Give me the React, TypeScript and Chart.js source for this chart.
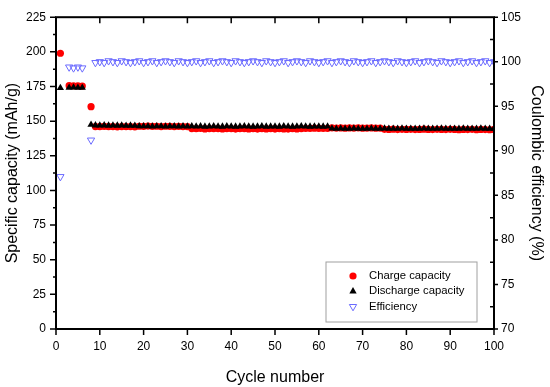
import React, { useEffect, useRef } from 'react';
import { Chart, registerables } from 'chart.js';

Chart.register(...registerables);

const cycles = [
  1, 2, 3, 4, 5, 6, 7, 8, 9, 10, 11, 12, 13, 14, 15, 16, 17, 18, 19, 20,
  21, 22, 23, 24, 25, 26, 27, 28, 29, 30, 31, 32, 33, 34, 35, 36, 37, 38, 39, 40,
  41, 42, 43, 44, 45, 46, 47, 48, 49, 50, 51, 52, 53, 54, 55, 56, 57, 58, 59, 60,
  61, 62, 63, 64, 65, 66, 67, 68, 69, 70, 71, 72, 73, 74, 75, 76, 77, 78, 79, 80,
  81, 82, 83, 84, 85, 86, 87, 88, 89, 90, 91, 92, 93, 94, 95, 96, 97, 98, 99, 100,
];

const chargeCapacity = [
  199.0, null, 175.6, 175.4, 175.5, 175.3, null, 160.4,
  146.1, 146.0, 146.2, 146.0, 146.1, 145.9, 146.1, 146.0, 146.1, 145.9,
  146.3, 146.2, 146.4, 146.2, 146.3, 146.1, 146.3, 146.2, 146.1, 146.2, 146.0, 146.1,
  144.6, 144.5, 144.7, 144.4, 144.6, 144.5, 144.6, 144.4, 144.5, 144.6, 144.3, 144.5,
  144.6, 144.4, 144.5, 144.3, 144.5, 144.4, 144.6, 144.3, 144.5, 144.4, 144.3, 144.5,
  144.4, 144.6, 144.7, 144.8, 144.9, 144.8, 144.7, 144.8,
  145.2, 145.0, 145.1, 144.9, 145.1, 145.0, 145.2, 144.9, 145.0, 145.1, 144.9, 145.0,
  144.1, 144.0, 144.2, 143.9, 144.1, 144.0, 144.1, 143.9, 144.0, 144.2, 144.0, 143.9,
  144.1, 144.0, 143.9, 144.1, 144.0, 143.8, 144.0, 143.9, 144.1, 143.8, 144.0, 143.9,
  143.8, 144.0,
];

const dischargeCapacity = [
  173.9, null, 174.2, 174.3, 174.1, 174.2, null, 147.4,
  147.0, 146.9, 147.0, 146.8, 146.9, 146.8, 146.9, 146.7, 146.8, 146.7,
  146.4, 146.3, 146.4, 146.2, 146.3, 146.3, 146.2, 146.4, 146.3, 146.2, 146.3, 146.2,
  146.3, 146.2, 146.3, 146.1, 146.2, 146.3, 146.2, 146.1, 146.3, 146.2, 146.1, 146.2,
  146.3, 146.2, 146.1, 146.2, 146.3, 146.1, 146.2, 146.2, 146.1, 146.3, 146.2, 146.1,
  146.2, 146.3, 146.2, 146.1, 146.2, 146.2, 146.1, 146.2,
  144.7, 144.6, 144.7, 144.5, 144.6, 144.7, 144.6, 144.5, 144.6, 144.7, 144.5, 144.6,
  144.7, 144.6, 144.5, 144.6, 144.7, 144.5, 144.6, 144.6, 144.5, 144.7, 144.6, 144.5,
  144.6, 144.7, 144.5, 144.6, 144.6, 144.5, 144.7, 144.6, 144.5, 144.6, 144.7, 144.5,
  144.6, 144.6,
];

const coulombicEfficiency = [
  87.1, null, 99.4, 99.3, 99.4, 99.3, null, 91.2,
  99.9, 100.0, 99.9, 100.1, 100.0, 99.9, 100.1, 100.0, 99.9, 100.0,
  100.1, 99.9, 100.0, 100.1, 99.9, 100.0, 100.1, 100.0, 99.9, 100.1, 100.0, 99.9,
  100.0, 100.1, 99.9, 100.0, 100.1, 99.9, 100.0, 100.1, 100.0, 99.9, 100.1, 100.0,
  99.9, 100.0, 100.1, 100.0, 99.9, 100.1, 100.0, 99.9, 100.0, 100.1, 99.9, 100.0,
  100.1, 100.0, 99.9, 100.1, 100.0, 99.9, 100.0, 100.1, 99.9, 100.0, 100.1, 100.0,
  99.9, 100.1, 100.0, 99.9, 100.0, 100.1, 99.9, 100.0, 100.1, 100.0, 99.9, 100.1,
  100.0, 99.9, 100.0, 100.1, 99.9, 100.0, 100.1, 100.0, 99.9, 100.1, 100.0, 99.9,
  100.0, 100.1, 99.9, 100.0, 100.1, 99.9, 100.0, 100.1, 99.9, 100.0,
];

const seriesNames = ['Charge capacity', 'Discharge capacity', 'Efficiency'];
const capacityTicks = [0, 25, 50, 75, 100, 125, 150, 175, 200, 225];
const efficiencyTicks = [70, 75, 80, 85, 90, 95, 100, 105];
const cycleTicks = [0, 10, 20, 30, 40, 50, 60, 70, 80, 90, 100];

const FONT = '"Liberation Sans", Arial, sans-serif';
const RED = '#ff0000';
const BLACK = '#000000';
const BLUE = '#6b6bff';

function toPoints(values: (number | null)[]) {
  return cycles.map((c, i) => ({ x: c, y: values[i] }));
}

function drawMarker(ctx: CanvasRenderingContext2D, kind: string, x: number, y: number) {
  ctx.save();
  if (kind === 'circle') {
    ctx.fillStyle = RED;
    ctx.beginPath();
    ctx.arc(x, y, 3.6, 0, Math.PI * 2);
    ctx.fill();
  } else if (kind === 'up') {
    const r = 4.2;
    ctx.fillStyle = BLACK;
    ctx.beginPath();
    ctx.moveTo(x, y - r);
    ctx.lineTo(x + r * 0.866, y + r * 0.5);
    ctx.lineTo(x - r * 0.866, y + r * 0.5);
    ctx.closePath();
    ctx.fill();
  } else {
    const r = 4.2;
    ctx.strokeStyle = BLUE;
    ctx.lineWidth = 1;
    ctx.beginPath();
    ctx.moveTo(x, y + r);
    ctx.lineTo(x + r * 0.866, y - r * 0.5);
    ctx.lineTo(x - r * 0.866, y - r * 0.5);
    ctx.closePath();
    ctx.stroke();
  }
  ctx.restore();
}

const decorPlugin = {
  id: 'decor',
  afterDatasetsDraw(chart: any) {
    const { ctx, chartArea: a, scales } = chart;
    const sx = scales.x;
    const sy = scales.y;
    const sy2 = scales.y2;
    ctx.save();
    ctx.strokeStyle = BLACK;
    ctx.lineWidth = 1.5;
    ctx.beginPath();
    capacityTicks.forEach((v, i) => {
      const p = sy.getPixelForValue(v);
      ctx.moveTo(a.left - 6, p);
      ctx.lineTo(a.left, p);
      if (i < capacityTicks.length - 1) {
        const m = sy.getPixelForValue((v + capacityTicks[i + 1]) / 2);
        ctx.moveTo(a.left - 3, m);
        ctx.lineTo(a.left, m);
      }
    });
    efficiencyTicks.forEach((v, i) => {
      const p = sy2.getPixelForValue(v);
      ctx.moveTo(a.right, p);
      ctx.lineTo(a.right + 4, p);
      if (i < efficiencyTicks.length - 1) {
        const m = sy2.getPixelForValue((v + efficiencyTicks[i + 1]) / 2);
        ctx.moveTo(a.right - 4, m);
        ctx.lineTo(a.right, m);
      }
    });
    cycleTicks.forEach((v) => {
      const p = sx.getPixelForValue(v);
      ctx.moveTo(p, a.bottom);
      ctx.lineTo(p, a.bottom + 6);
      ctx.moveTo(p, a.top);
      ctx.lineTo(p, a.top + 6);
    });
    ctx.stroke();
    ctx.lineWidth = 2;
    ctx.strokeRect(a.left, a.top, a.right - a.left, a.bottom - a.top);

    const bw = 151;
    const bh = 60;
    const bx = a.right - 17.5 - bw;
    const by = a.bottom - 7.5 - bh;
    ctx.fillStyle = '#ffffff';
    ctx.fillRect(bx, by, bw, bh);
    ctx.strokeStyle = '#a0a0a0';
    ctx.lineWidth = 1;
    ctx.strokeRect(bx + 0.5, by + 0.5, bw, bh);
    const kinds = ['circle', 'up', 'down'];
    ctx.font = `11.3px ${FONT}`;
    ctx.textBaseline = 'middle';
    ctx.textAlign = 'left';
    seriesNames.forEach((name, i) => {
      const cy = by + 14.5 + i * 15.3;
      drawMarker(ctx, kinds[i], bx + 27.5, cy);
      ctx.fillStyle = BLACK;
      ctx.fillText(name, bx + 43.5, cy);
    });
    ctx.restore();
  },
};

export default function App() {
  const canvasRef = useRef<HTMLCanvasElement | null>(null);

  useEffect(() => {
    document.body.style.margin = '0';
    const canvas = canvasRef.current;
    if (!canvas) return;
    const chart = new Chart(canvas, {
      type: 'scatter',
      data: {
        datasets: [
          {
            label: seriesNames[1],
            data: toPoints(dischargeCapacity),
            yAxisID: 'y',
            pointStyle: 'triangle',
            pointRadius: 4.2,
            pointBackgroundColor: BLACK,
            pointBorderColor: BLACK,
            pointBorderWidth: 0,
            order: 1,
          },
          {
            label: seriesNames[0],
            data: toPoints(chargeCapacity),
            yAxisID: 'y',
            pointStyle: 'circle',
            pointRadius: 3.6,
            pointBackgroundColor: RED,
            pointBorderColor: RED,
            pointBorderWidth: 0,
            order: 2,
          },
          {
            label: seriesNames[2],
            data: toPoints(coulombicEfficiency),
            yAxisID: 'y2',
            pointStyle: 'triangle',
            pointRotation: 180,
            pointRadius: 4.2,
            pointBackgroundColor: 'rgba(255,255,255,0)',
            pointBorderColor: BLUE,
            pointBorderWidth: 1,
            order: 3,
          },
        ],
      },
      options: {
        responsive: false,
        animation: false,
        events: [],
        layout: { padding: { top: 11, left: 0, right: 0, bottom: 0 } },
        plugins: { legend: { display: false }, tooltip: { enabled: false } },
        scales: {
          x: {
            type: 'linear',
            min: 0,
            max: 100,
            afterBuildTicks: (s: any) => { s.ticks = cycleTicks.map((v) => ({ value: v })); },
            afterFit: (s: any) => { s.height = 58; },
            grid: { display: false, drawTicks: false },
            border: { display: false },
            ticks: { color: BLACK, font: { family: FONT, size: 12 }, padding: 10, maxRotation: 0 },
            title: { display: true, text: 'Cycle number', color: BLACK, font: { family: FONT, size: 16 }, padding: { top: 6, bottom: 0 } },
          },
          y: {
            type: 'linear',
            position: 'left',
            min: 0,
            max: 225,
            afterBuildTicks: (s: any) => { s.ticks = capacityTicks.map((v) => ({ value: v })); },
            afterFit: (s: any) => { s.width = 56; },
            grid: { display: false, drawTicks: false },
            border: { display: false },
            ticks: { color: BLACK, font: { family: FONT, size: 12 }, padding: 10 },
            title: { display: true, text: 'Specific capacity (mAh/g)', color: BLACK, font: { family: FONT, size: 16 }, padding: { top: 3, bottom: 0 } },
          },
          y2: {
            type: 'linear',
            position: 'right',
            min: 70,
            max: 105,
            afterBuildTicks: (s: any) => { s.ticks = efficiencyTicks.map((v) => ({ value: v })); },
            afterFit: (s: any) => { s.width = 56; },
            grid: { display: false, drawTicks: false },
            border: { display: false },
            ticks: { color: BLACK, font: { family: FONT, size: 12 }, padding: 7 },
            title: { display: true, text: 'Coulombic efficiency (%)', color: BLACK, font: { family: FONT, size: 16 }, padding: { top: 4, bottom: 0 } },
          },
        },
      },
      plugins: [decorPlugin],
    } as any);
    return () => chart.destroy();
  }, []);

  return (
    <div style={{ position: 'absolute', left: 0, top: 0, width: 550, height: 387, background: '#fff' }}>
      <canvas ref={canvasRef} width={550} height={387} style={{ display: 'block', width: 550, height: 387 }} />
    </div>
  );
}
